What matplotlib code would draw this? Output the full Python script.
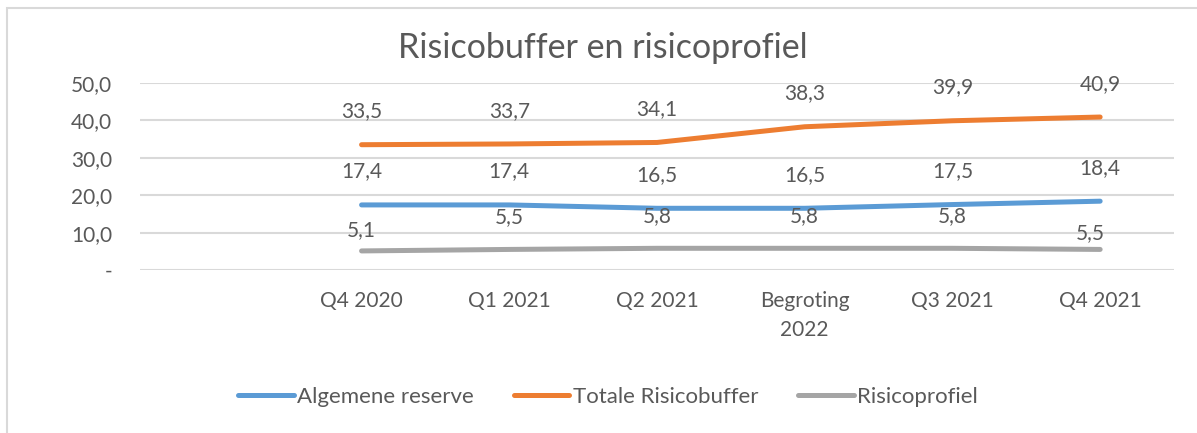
import matplotlib.pyplot as plt
from matplotlib.patches import Rectangle

plt.rcParams['font.family'] = ['Lato', 'DejaVu Sans']

# data
categories = ['', 'Q4 2020', 'Q1 2021', 'Q2 2021', 'Begroting\n2022', 'Q3 2021', 'Q4 2021']
algemene_reserve = [None, 17.4, 17.4, 16.5, 16.5, 17.5, 18.4]
totale_buffer = [None, 33.5, 33.7, 34.1, 38.3, 39.9, 40.9]
risicoprofiel = [None, 5.1, 5.5, 5.8, 5.8, 5.8, 5.5]
y_ticks = [0, 10, 20, 30, 40, 50]
y_tick_labels = ['-', '10,0', '20,0', '30,0', '40,0', '50,0']

# label offsets in points (dx, dy) for the grey series, Excel nudges them
grey_offsets = [None, (0, 15), (0, 23), (0, 23), (0, 23), (0, 23), (-7, 11.5)]

TEXT = '#595959'
GRID = '#D9D9D9'

fig = plt.figure(figsize=(11.97, 4.33), dpi=100)
fig.patches.append(Rectangle((7 / 1197, -0.1), 1.2, 1 - 8 / 433 + 0.1,
                             transform=fig.transFigure, fill=False,
                             edgecolor=GRID, linewidth=1.5))
ax = fig.add_axes([140 / 1197, 1 - 270 / 433, (1174 - 140) / 1197, (270 - 83) / 433])

x = list(range(len(categories)))
series = [
    ('Algemene reserve', algemene_reserve, '#5B9BD5'),
    ('Totale Risicobuffer', totale_buffer, '#ED7D31'),
    ('Risicoprofiel', risicoprofiel, '#A5A5A5'),
]
for name, vals, col in series:
    xs = [i for i, v in zip(x, vals) if v is not None]
    ys = [v for v in vals if v is not None]
    ax.plot(xs, ys, color=col, lw=3.6, solid_capstyle='round',
            solid_joinstyle='round', label=name, zorder=3)
    for i, v in zip(xs, ys):
        off = (0, 24)
        if name == 'Risicoprofiel':
            off = grey_offsets[i]
        ax.annotate(f'{v:.1f}'.replace('.', ','), (i, v), xytext=off,
                    textcoords='offset points', ha='center', va='center',
                    fontsize=15, color=TEXT)

ax.set_xlim(-0.5, len(categories) - 0.5)
ax.set_ylim(0, 50)
ax.set_yticks(y_ticks)
ax.set_yticklabels(y_tick_labels)
ax.set_xticks(x)
ax.set_xticklabels(categories, linespacing=1.6)
ax.tick_params(axis='both', length=0, labelsize=15, labelcolor=TEXT)
ax.tick_params(axis='y', pad=20)
ax.tick_params(axis='x', pad=15)
for lbl in ax.get_yticklabels():
    lbl.set_horizontalalignment('right')
ax.grid(axis='y', color=GRID, lw=1.5)
ax.set_axisbelow(True)
for s in ax.spines.values():
    s.set_visible(False)

fig.text(0.504, 1 - 48 / 433, 'Risicobuffer en risicoprofiel', ha='center',
         va='center', fontsize=24.5, color=TEXT)

fig.legend(loc='center', bbox_to_anchor=(0.508, 1 - 397 / 433), ncol=3,
           frameon=False, fontsize=16, handlelength=2.5, handletextpad=0.15,
           columnspacing=1.8, labelcolor=TEXT)

fig.savefig('out.png', dpi=100)
